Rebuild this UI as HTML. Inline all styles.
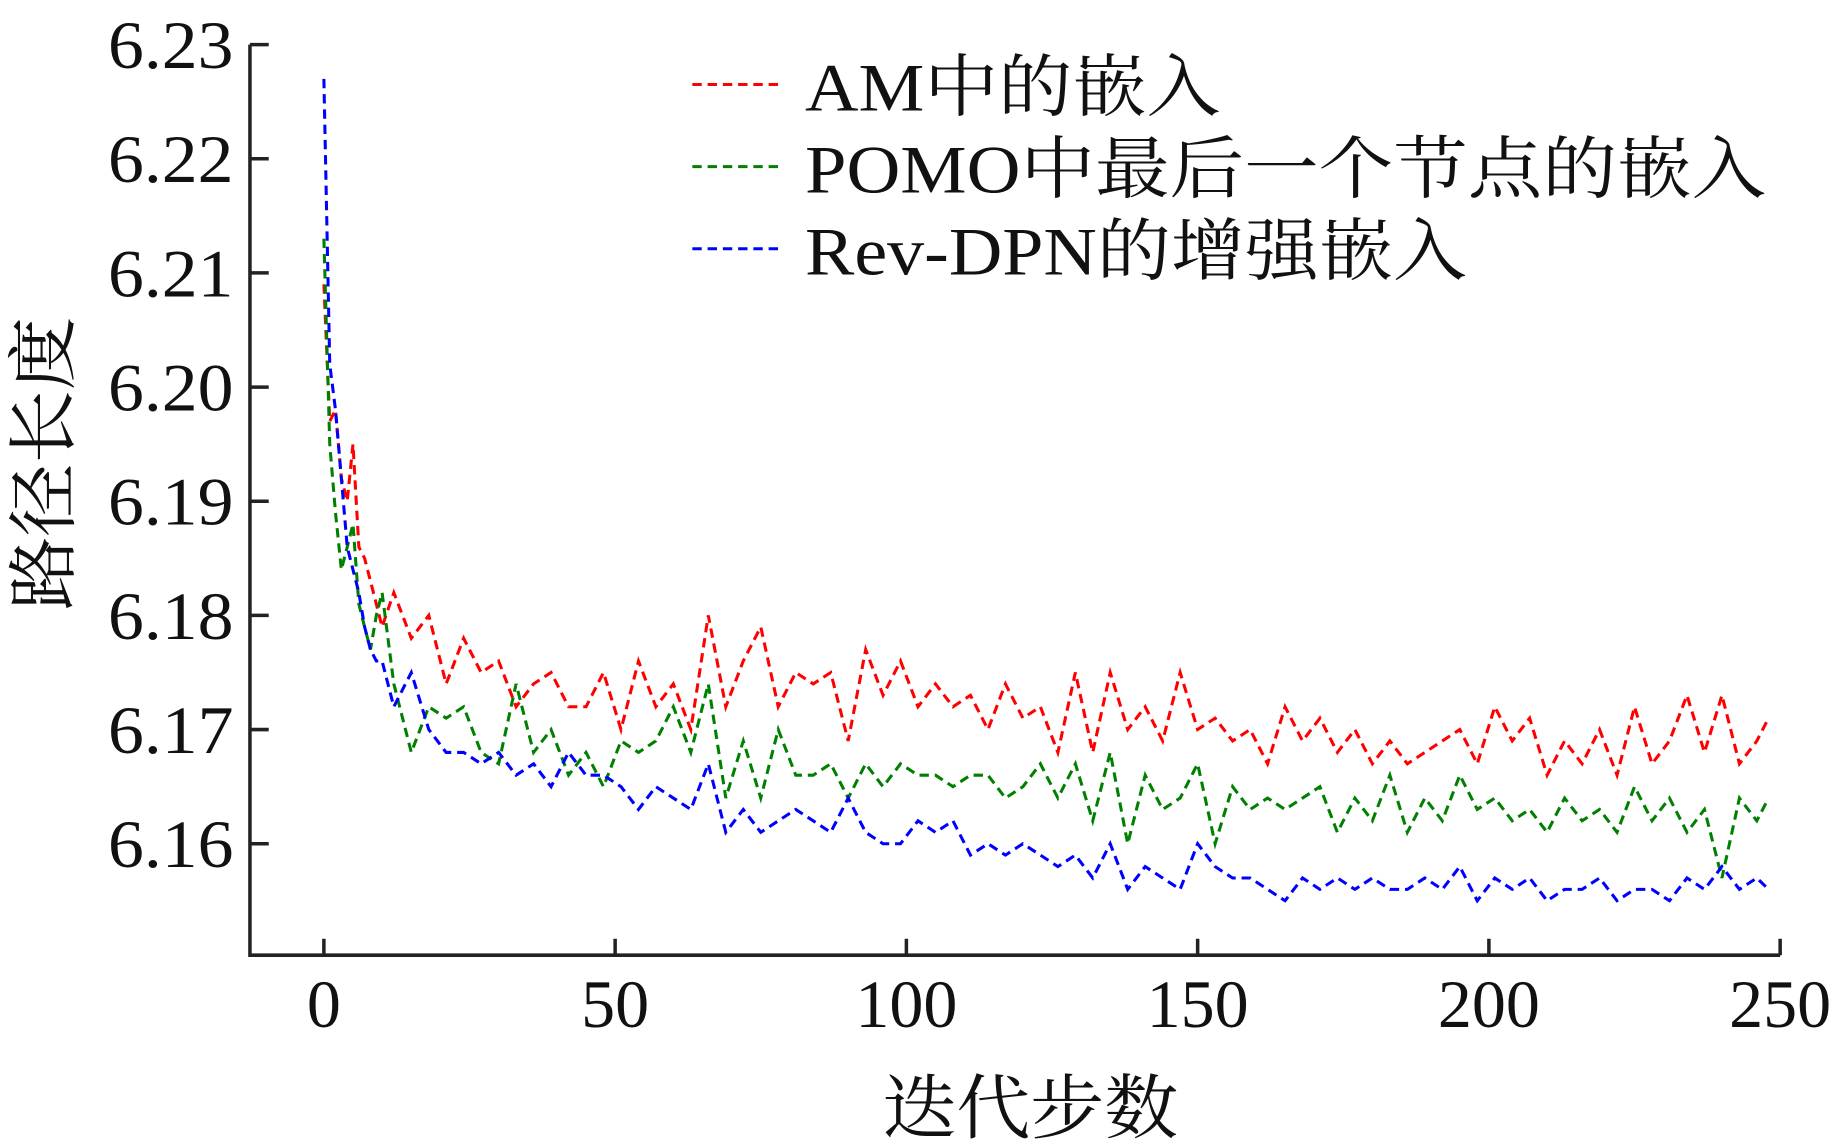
<!DOCTYPE html>
<html><head><meta charset="utf-8"><style>
html,body{margin:0;padding:0;background:#fff;width:1840px;height:1146px;overflow:hidden}
svg{display:block}
text{font-family:"Liberation Serif","Noto Serif CJK SC",serif;fill:#111}
</style></head><body>
<svg id="chart" width="1840" height="1146" viewBox="0 0 1568 976.6" preserveAspectRatio="none" xmlns="http://www.w3.org/2000/svg">
<g id="plot"></g>
</svg>
<script>
const steps=[0,1,2,3,4,5,6,7,8,9,
10,12,15,18,21,24,27,30,33,36,
39,42,45,48,51,54,57,60,63,66,
69,72,75,78,81,84,87,90,93,96,
99,102,105,108,111,114,117,120,123,126,
129,132,135,138,141,144,147,150,153,156,
159,162,165,168,171,174,177,180,183,186,
189,192,195,198,201,204,207,210,213,216,
219,222,225,228,231,234,237,240,243,246,
248];
const amValues=[6.209,6.197,6.198,6.192,6.190,6.195,6.186,6.185,6.183,6.181,
6.179,6.182,6.178,6.180,6.174,6.178,6.175,6.176,6.172,6.174,
6.175,6.172,6.172,6.175,6.170,6.176,6.172,6.174,6.170,6.180,
6.172,6.176,6.179,6.172,6.175,6.174,6.175,6.169,6.177,6.173,
6.176,6.172,6.174,6.172,6.173,6.170,6.174,6.171,6.172,6.168,
6.175,6.168,6.175,6.170,6.172,6.169,6.175,6.170,6.171,6.169,
6.170,6.167,6.172,6.169,6.171,6.168,6.170,6.167,6.169,6.167,
6.168,6.169,6.170,6.167,6.172,6.169,6.171,6.166,6.169,6.167,
6.170,6.166,6.172,6.167,6.169,6.173,6.168,6.173,6.167,6.169,
6.171];
const pomoValues=[6.213,6.195,6.189,6.184,6.186,6.188,6.181,6.179,6.177,6.180,
6.182,6.174,6.168,6.172,6.171,6.172,6.168,6.167,6.174,6.168,
6.170,6.166,6.168,6.165,6.169,6.168,6.169,6.172,6.168,6.174,
6.164,6.169,6.164,6.170,6.166,6.166,6.167,6.164,6.167,6.165,
6.167,6.166,6.166,6.165,6.166,6.166,6.164,6.165,6.167,6.164,
6.167,6.162,6.168,6.160,6.166,6.163,6.164,6.167,6.160,6.165,
6.163,6.164,6.163,6.164,6.165,6.161,6.164,6.162,6.166,6.161,
6.164,6.162,6.166,6.163,6.164,6.162,6.163,6.161,6.164,6.162,
6.163,6.161,6.165,6.162,6.164,6.161,6.163,6.157,6.164,6.162,
6.164];
const revValues=[6.227,6.202,6.198,6.192,6.186,6.184,6.182,6.179,6.177,6.176,
6.176,6.172,6.175,6.170,6.168,6.168,6.167,6.168,6.166,6.167,
6.165,6.168,6.166,6.166,6.165,6.163,6.165,6.164,6.163,6.167,
6.161,6.163,6.161,6.162,6.163,6.162,6.161,6.164,6.161,6.160,
6.160,6.162,6.161,6.162,6.159,6.160,6.159,6.160,6.159,6.158,
6.159,6.157,6.160,6.156,6.158,6.157,6.156,6.160,6.158,6.157,
6.157,6.156,6.155,6.157,6.156,6.157,6.156,6.157,6.156,6.156,
6.157,6.156,6.158,6.155,6.157,6.156,6.157,6.155,6.156,6.156,
6.157,6.155,6.156,6.156,6.155,6.157,6.156,6.158,6.156,6.157,
6.156];
const yTicks=[6.16,6.17,6.18,6.19,6.20,6.21,6.22,6.23];
const yTickLabels=["6.16","6.17","6.18","6.19","6.20","6.21","6.22","6.23"];
const xTicks=[0,50,100,150,200,250];
const xTickLabels=["0","50","100","150","200","250"];
const seriesNames=["AM中的嵌入","POMO中最后一个节点的嵌入","Rev-DPN的增强嵌入"];

const NS="http://www.w3.org/2000/svg";
const g=document.getElementById('plot');
const xs=v=>276+(v-0)*(1517-276)/250;
const ys=v=>719-(v-6.16)*(719-38)/0.07;
function mk(tag,attrs){const e=document.createElementNS(NS,tag);for(const k in attrs)e.setAttribute(k,attrs[k]);g.appendChild(e);return e;}

let ax=mk('path',{d:'M213,38 L213,814 L1517,814',fill:'none',stroke:'#222','stroke-width':3});


yTicks.forEach((t,i)=>{
  const y=ys(t);
  const tk=mk('line',{x1:213,x2:229,y1:y,y2:y,stroke:'#222','stroke-width':3});
  
  
  const tx=mk('text',{x:199,y:y+20,'text-anchor':'end','font-size':58,textLength:107,lengthAdjust:'spacingAndGlyphs'});
  tx.textContent=yTickLabels[i];
  
  
});
xTicks.forEach((t,i)=>{
  const x=xs(t);
  const tk=mk('line',{x1:x,x2:x,y1:814,y2:800,stroke:'#222','stroke-width':3});
  
  
  const tx=mk('text',{x:x,y:875,'text-anchor':'middle','font-size':58});
  tx.textContent=xTickLabels[i];
  
  
});
let yt=mk('text',{x:0,y:0,'text-anchor':'middle','font-size':60,textLength:250,lengthAdjust:'spacingAndGlyphs',transform:'translate(58,395) rotate(-90)'});
yt.textContent='路径长度';


let xt=mk('text',{x:878,y:965,'text-anchor':'middle','font-size':60,textLength:252,lengthAdjust:'spacingAndGlyphs'});
xt.textContent='迭代步数';



const colors=['#ff0000','#008000','#0000ff'];
const allSeries=[amValues,pomoValues,revValues];
const seriesIds=['line-am','line-pomo','line-rev-dpn'];
allSeries.forEach((vals,si)=>{
  const n=Math.min(vals.length,steps.length);
  let d='';
  for(let i=0;i<n;i++)d+=(i?'L':'M')+xs(steps[i]).toFixed(1)+','+ys(vals[i]).toFixed(1);
  const p=mk('path',{d:d,fill:'none',stroke:colors[si],'stroke-width':2.6,'stroke-dasharray':'8,5'});
  
  
});
const legY=[72,142,212];
const legW=[354,819,564];
seriesNames.forEach((nm,i)=>{
  const l=mk('line',{x1:590,x2:668,y1:legY[i],y2:legY[i],stroke:colors[i],'stroke-width':2.6,'stroke-dasharray':'8,5'});
  
  
  const t=mk('text',{x:686,y:legY[i]+22,'font-size':58,textLength:legW[i],lengthAdjust:'spacingAndGlyphs'});
  t.textContent=nm;
  
  
});
</script>
</body></html>
